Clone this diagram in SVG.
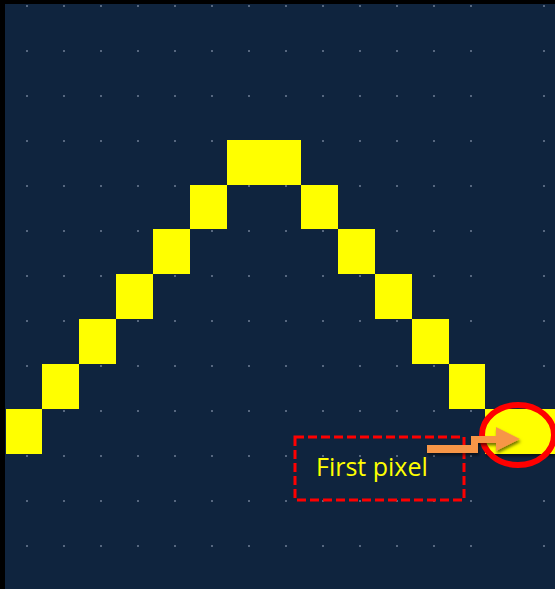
<svg xmlns="http://www.w3.org/2000/svg" width="555" height="589" viewBox="0 0 555 589">
  <style>
    .px { fill: #FFFF00; }
    .dot { fill: #56677f; }
    .label { font-family: "Open Sans", "Liberation Sans", sans-serif; font-size: 25px; fill: #FFFF00; }
  </style>
  <defs>
    <pattern id="grid" patternUnits="userSpaceOnUse" x="26" y="5" width="37" height="45">
      <rect class="dot" x="0" y="0" width="2" height="2"/>
    </pattern>
    <filter id="shadow" x="-20%" y="-40%" width="140%" height="200%">
      <feDropShadow dx="1" dy="2.5" stdDeviation="1.5" flood-color="#000000" flood-opacity="0.55"/>
    </filter>
  </defs>

  <!-- frame and background -->
  <rect x="0" y="0" width="555" height="589" fill="#000000"/>
  <rect x="5" y="4" width="550" height="585" fill="#0F243E"/>

  <!-- dotted grid -->
  <g id="grid-dots">
    <rect x="5" y="4" width="480" height="585" fill="url(#grid)"/>
    <rect class="dot" x="543" y="5" width="2" height="2"/>
    <rect class="dot" x="543" y="50" width="2" height="2"/>
    <rect class="dot" x="543" y="95" width="2" height="2"/>
    <rect class="dot" x="543" y="140" width="2" height="2"/>
    <rect class="dot" x="543" y="185" width="2" height="2"/>
    <rect class="dot" x="543" y="230" width="2" height="2"/>
    <rect class="dot" x="543" y="275" width="2" height="2"/>
    <rect class="dot" x="543" y="320" width="2" height="2"/>
    <rect class="dot" x="543" y="365" width="2" height="2"/>
    <rect class="dot" x="543" y="410" width="2" height="2"/>
    <rect class="dot" x="543" y="455" width="2" height="2"/>
    <rect class="dot" x="543" y="500" width="2" height="2"/>
    <rect class="dot" x="543" y="545" width="2" height="2"/>
  </g>

  <!-- yellow pixels -->
  <g id="px1"><rect class="px" x="6" y="409" width="36" height="45"/></g>
  <g id="px2"><rect class="px" x="42" y="364" width="37" height="45"/></g>
  <g id="px3"><rect class="px" x="79" y="319" width="37" height="45"/></g>
  <g id="px4"><rect class="px" x="116" y="274" width="37" height="45"/></g>
  <g id="px5"><rect class="px" x="153" y="229" width="37" height="45"/></g>
  <g id="px6"><rect class="px" x="190" y="185" width="37" height="44"/></g>
  <g id="px7"><rect class="px" x="227" y="140" width="74" height="45"/></g>
  <g id="px8"><rect class="px" x="301" y="185" width="37" height="44"/></g>
  <g id="px9"><rect class="px" x="338" y="229" width="37" height="45"/></g>
  <g id="px10"><rect class="px" x="375" y="274" width="37" height="45"/></g>
  <g id="px11"><rect class="px" x="412" y="319" width="37" height="45"/></g>
  <g id="px12"><rect class="px" x="449" y="364" width="36" height="45"/></g>
  <g id="px13"><rect class="px" x="485" y="409" width="70" height="45" filter="url(#shadow)"/></g>

  <!-- highlight ring -->
  <g id="highlight">
    <ellipse cx="518" cy="435" rx="36" ry="30" fill="none" stroke="#FF0000" stroke-width="6"/>
  </g>

  <!-- label box -->
  <g id="label-box">
    <rect x="295" y="437" width="169" height="63" fill="none" stroke="#FF0000" stroke-width="3" stroke-dasharray="9 4"/>
    <text class="label" x="316" y="476">First pixel</text>
  </g>

  <!-- connector arrow -->
  <g id="connectors">
    <polygon points="427,445 471,445 471,436 496,436 496,427 520,439 496,451 496,443 478,443 478,453 427,453" fill="#F79646" filter="url(#shadow)"/>
  </g>
</svg>
